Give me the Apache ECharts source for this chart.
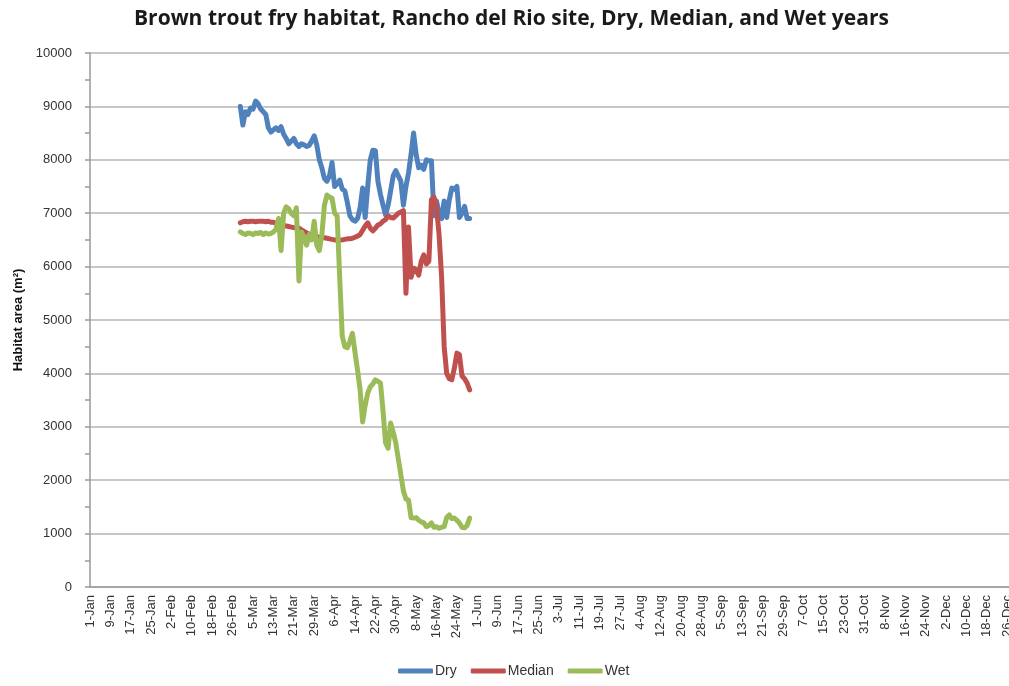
<!DOCTYPE html>
<html>
<head>
<meta charset="utf-8">
<script src="https://cdn.jsdelivr.net/npm/echarts@6/dist/echarts.min.js"></script>
<style>
  html, body { margin: 0; padding: 0; background: #fff; overflow: hidden; }
  #chart { width: 1009px; height: 686px; }
</style>
</head>
<body>
<div id="chart"></div>
<script>
// tick labels every 8 days (leap year), day 0 = 1-Jan
const tickLabels = [
  '1-Jan', '9-Jan', '17-Jan', '25-Jan', '2-Feb', '10-Feb', '18-Feb', '26-Feb',
  '5-Mar', '13-Mar', '21-Mar', '29-Mar', '6-Apr', '14-Apr', '22-Apr', '30-Apr',
  '8-May', '16-May', '24-May', '1-Jun', '9-Jun', '17-Jun', '25-Jun', '3-Jul',
  '11-Jul', '19-Jul', '27-Jul', '4-Aug', '12-Aug', '20-Aug', '28-Aug', '5-Sep',
  '13-Sep', '21-Sep', '29-Sep', '7-Oct', '15-Oct', '23-Oct', '31-Oct', '8-Nov',
  '16-Nov', '24-Nov', '2-Dec', '10-Dec', '18-Dec', '26-Dec'
];
const tickStep = 8;
const startDay = 59; // 29-Feb

// daily values from 29-Feb to 30-May
const dry = [
  9000, 8650, 8900, 8850, 8970, 8950, 9100, 9050, 8950, 8900,
  8850, 8600, 8520, 8560, 8600, 8550, 8620, 8480, 8400, 8300,
  8350, 8400, 8300, 8250, 8300, 8280, 8250, 8270, 8350, 8450,
  8280, 8000, 7850, 7650, 7600, 7700, 7950, 7500, 7550, 7620,
  7450, 7420, 7200, 6950, 6880, 6850, 6900, 7100, 7470, 6920,
  7500, 8000, 8180, 8170, 7600, 7350, 7150, 6970, 7150, 7420,
  7700, 7800, 7700, 7600, 7150, 7500, 7750, 8100, 8500, 8100,
  7850, 7900, 7820, 8000, 7980, 7980, 6950, 7230, 7000, 6900,
  7230, 6920, 7250, 7470, 7450, 7500, 6920, 7000, 7130, 6900,
  6900
];
const median = [
  6820, 6840, 6850, 6840, 6850, 6850, 6840, 6850, 6850, 6850,
  6840, 6850, 6830, 6830, 6810, 6800, 6780, 6770, 6760, 6750,
  6740, 6730, 6720, 6720, 6690, 6660, 6630, 6610, 6590, 6570,
  6560, 6550, 6540, 6540, 6530, 6520, 6510, 6500, 6500, 6500,
  6500, 6510, 6520, 6520, 6530, 6550, 6570, 6600, 6680, 6760,
  6820, 6720, 6670, 6720, 6780, 6800, 6850, 6880, 6950, 6920,
  6910, 6950, 7000, 7020, 7050, 5500, 6740, 5800, 5970, 5940,
  5840, 6100, 6220, 6050, 6100, 7250, 7300, 7100, 6600, 5800,
  4500, 4000, 3900, 3880, 4100, 4380, 4350, 3950, 3900, 3820,
  3690
];
const wet = [
  6650, 6620, 6600, 6630, 6620, 6600, 6630, 6620, 6640, 6600,
  6630, 6610, 6620, 6650, 6700, 6900, 6300, 7000, 7120, 7080,
  7000, 6950, 7100, 5730, 6650, 6550, 6400, 6600, 6500, 6850,
  6400, 6300, 6600, 7150, 7340, 7300, 7280, 7000, 6950, 5800,
  4700, 4500, 4480, 4600, 4750, 4400, 4060, 3700, 3090, 3400,
  3630, 3750, 3800, 3880, 3850, 3820, 3300, 2700, 2600, 3070,
  2900, 2700, 2400, 2100, 1800, 1650, 1630, 1300, 1290, 1300,
  1250, 1220, 1200, 1130, 1150, 1200, 1120, 1130, 1100, 1120,
  1130, 1300, 1350, 1280, 1290, 1250, 1200, 1120, 1110, 1150,
  1290
];

const seriesNames = ['Dry', 'Median', 'Wet'];
const seriesColors = ['#4f81bd', '#c0504d', '#9bbb59'];

function toPoints(arr) {
  return arr.map((v, i) => [startDay + i, v]);
}

const chart = echarts.init(document.getElementById('chart'), null, { renderer: 'canvas' });

const font = '"Liberation Sans", "DejaVu Sans", sans-serif';

chart.setOption({
  animation: false,
  backgroundColor: '#fff',
  title: {
    text: 'Brown trout fry habitat, Rancho del Rio site, Dry, Median, and Wet years',
    left: 129,
    top: 4,
    textStyle: { fontFamily: '"Open Sans", sans-serif', fontSize: 21, fontWeight: 'bold', color: '#1a1a1a' }
  },
  legend: {
    bottom: 3,
    left: 393,
    itemWidth: 35,
    itemHeight: 5,
    itemGap: 14,
    icon: 'roundRect',
    textStyle: { fontFamily: font, fontSize: 14, color: '#333', padding: [0, 0, 0, -3] },
    data: seriesNames
  },
  // plot runs past the right edge of the window, as in the reference
  grid: { left: 90, top: 53, width: 930, bottom: 99, outerBoundsMode: 'none' },
  xAxis: {
    type: 'value',
    min: 0,
    max: 365,
    interval: tickStep,
    splitLine: { show: false },
    axisLine: { lineStyle: { color: '#9a9a9a', width: 1.5 } },
    axisTick: { show: false },
    axisLabel: {
      rotate: 90,
      margin: 8,
      fontFamily: font,
      fontSize: 13,
      color: '#333',
      formatter: v => (v % tickStep === 0 && tickLabels[v / tickStep]) || ''
    }
  },
  yAxis: {
    type: 'value',
    min: 0,
    max: 10000,
    interval: 1000,
    name: 'Habitat area (m²)',
    nameLocation: 'middle',
    nameRotate: 90,
    nameGap: 64,
    nameTextStyle: { fontFamily: font, fontSize: 13, fontWeight: 'bold', color: '#111' },
    axisLine: { show: true, lineStyle: { color: '#9a9a9a', width: 1.5 } },
    axisTick: { show: true, length: 5, lineStyle: { color: '#9a9a9a', width: 1.5 } },
    minorTick: { show: true, splitNumber: 2, length: 5, lineStyle: { color: '#9a9a9a', width: 1.5 } },
    splitLine: { lineStyle: { color: '#c6c6c6', width: 2 } },
    axisLabel: {
      margin: 18, fontFamily: font, fontSize: 13, color: '#333',
      formatter: v => String(v)
    }
  },
  series: [dry, median, wet].map((arr, k) => ({
    name: seriesNames[k],
    type: 'line',
    data: toPoints(arr),
    showSymbol: false,
    color: seriesColors[k],
    lineStyle: { width: 5, color: seriesColors[k], cap: 'round', join: 'round' }
  }))
});
</script>
</body>
</html>
